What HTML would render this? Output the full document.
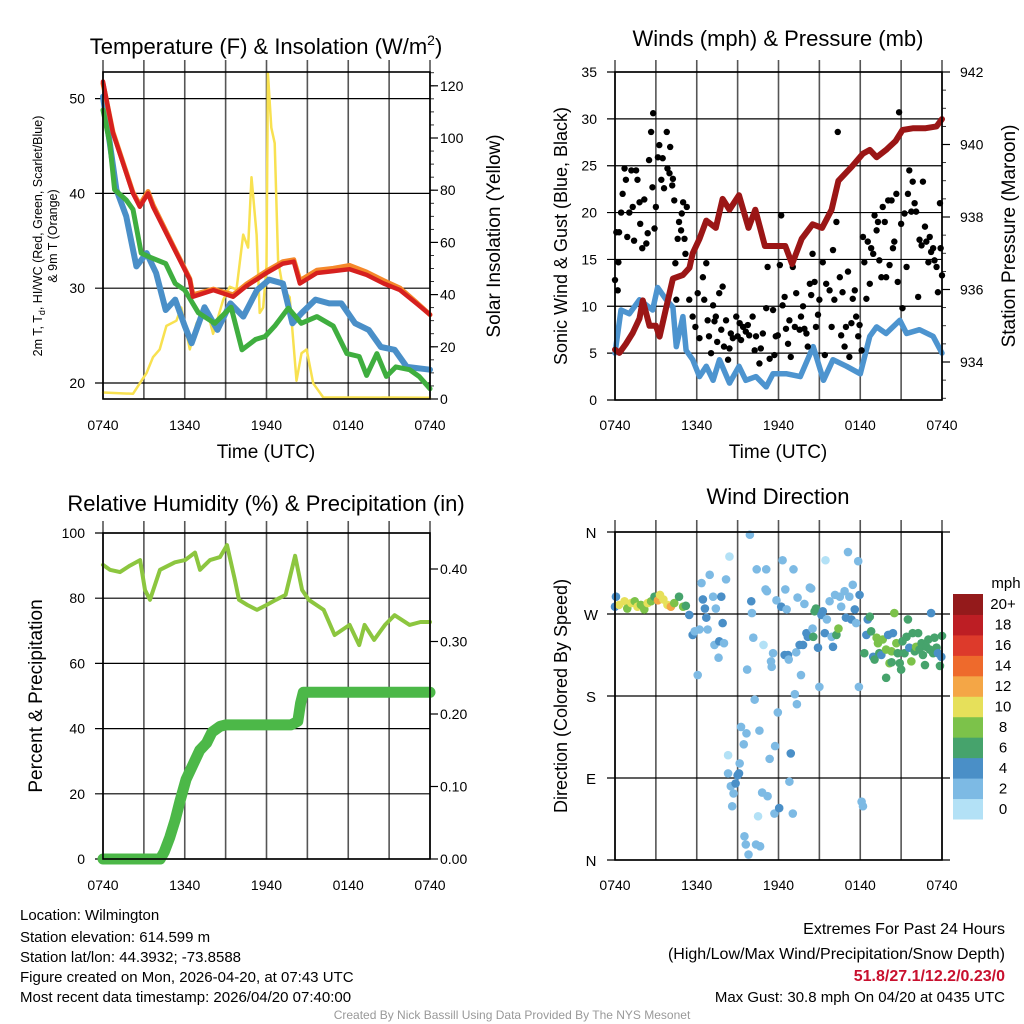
<!DOCTYPE html>
<html><head><meta charset="utf-8">
<style>
html,body{margin:0;padding:0;background:#fff;}
svg{display:block;font-family:"Liberation Sans",Arial,sans-serif;}
</style></head>
<body>
<svg id="chart" width="1024" height="1024" viewBox="0 0 1024 1024" xmlns="http://www.w3.org/2000/svg">
<rect width="1024" height="1024" fill="#fff"/>
<g id="g1"></g>
<g id="g2"></g>
<g id="g3"></g>
<g id="g4"></g>

<text x="266" y="54" font-size="22" text-anchor="middle">Temperature (F) &amp; Insolation (W/m<tspan dy="-9" font-size="14">2</tspan><tspan dy="9">)</tspan></text>
<text x="778" y="46" font-size="22" text-anchor="middle">Winds (mph) &amp; Pressure (mb)</text>
<text x="266" y="511" font-size="22" text-anchor="middle">Relative Humidity (%) &amp; Precipitation (in)</text>
<text x="778" y="504" font-size="22" text-anchor="middle">Wind Direction</text>

<text x="266" y="458" font-size="19" text-anchor="middle">Time (UTC)</text>
<text x="778" y="458" font-size="19" text-anchor="middle">Time (UTC)</text>

<text transform="translate(42,236) rotate(-90)" font-size="12.5" text-anchor="middle">2m T, T<tspan font-size="9" dy="3">d</tspan><tspan dy="-3">, HI/WC (Red, Green, Scarlet/Blue)</tspan></text>
<text transform="translate(57,236) rotate(-90)" font-size="12.5" text-anchor="middle">&amp; 9m T (Orange)</text>
<text transform="translate(500,236) rotate(-90)" font-size="19" text-anchor="middle">Solar Insolation (Yellow)</text>
<text transform="translate(567,236) rotate(-90)" font-size="18" text-anchor="middle">Sonic Wind &amp; Gust (Blue, Black)</text>
<text transform="translate(1015,236) rotate(-90)" font-size="19" text-anchor="middle">Station Pressure (Maroon)</text>
<text transform="translate(42,696) rotate(-90)" font-size="19" text-anchor="middle">Percent &amp; Precipitation</text>
<text transform="translate(567,696) rotate(-90)" font-size="18" text-anchor="middle">Direction (Colored By Speed)</text>

<g font-size="15">
<text x="20" y="920">Location: Wilmington</text>
<text x="20" y="942">Station elevation: 614.599 m</text>
<text x="20" y="962">Station lat/lon: 44.3932; -73.8588</text>
<text x="20" y="982">Figure created on Mon, 2026-04-20, at 07:43 UTC</text>
<text x="20" y="1002">Most recent data timestamp: 2026/04/20 07:40:00</text>
</g>
<g font-size="16" text-anchor="end">
<text x="1005" y="934">Extremes For Past 24 Hours</text>
<text x="1005" y="959">(High/Low/Max Wind/Precipitation/Snow Depth)</text>
<text x="1005" y="981" fill="#c8102e" font-weight="bold">51.8/27.1/12.2/0.23/0</text>
<text x="1005" y="1002" font-size="15">Max Gust: 30.8 mph On 04/20 at 0435 UTC</text>
</g>
<text x="512" y="1019" font-size="12" fill="#999" text-anchor="middle">Created By Nick Bassill Using Data Provided By The NYS Mesonet</text>
</svg>
<script>
// ---- Panel 1 data ----
const tempTime=[0,0.73,2.2,2.7,3.3,3.67,5.14,6.37,6.6,8.1,9.55,10.5,12,13.2,14,14.45,15.7,16.9,18.1,19.35,20.6,21.8,23,24];
const tempRed=[51.8,46.4,40,38.6,40,38.6,34.4,30.9,29.1,29.8,29.1,30.2,31.6,32.6,32.8,30.5,31.6,31.8,32,31.4,30.5,29.8,28.4,27.2];
const temp9m=[51.6,46.5,40.1,38.8,40.2,38.8,34.5,31,29.3,29.9,29.3,30.4,31.8,32.8,33,30.8,31.9,32.1,32.4,31.7,30.8,30,28.5,27.2];
const dewTime=[0,0.5,0.85,1.7,2.2,2.8,3.4,4.6,5.3,6.0,7.0,8.2,9.4,10.2,11.2,11.9,12.6,13.6,14.55,15.7,16.9,17.9,18.8,19.35,20.1,20.8,21.5,22.5,23.2,24];
const dewGreen=[48.8,45.3,40.4,39.3,38.3,33.7,33.3,32.6,30.5,29.8,27.4,26.3,28,23.5,24.6,24.9,26,27.9,26.3,27,26,23.1,22.8,20.8,23.1,20.7,21.7,21.4,20.7,19.4];
const wcTime=[0,0.5,0.98,1.7,2.45,3.2,3.9,4.6,5.3,6.0,6.5,7.45,8.4,9.35,10.3,11.3,12.2,13.2,13.9,14.6,15.6,16.6,17.5,18.5,19.5,20.4,21.4,22.3,24];
const wcBlue=[50.2,45.3,40.4,37.6,32.3,33.7,31.6,27.7,28.8,26,24.2,28,25.6,28.4,27,29.8,30.9,30.5,26.3,27.4,28.8,28.4,28.4,26.3,25.6,23.8,23.5,21.7,21.4];
const solarTime=[0,2.2,2.7,3.2,3.67,4.16,4.65,5.39,5.75,6.37,6.86,7.59,8.08,8.82,9.31,9.8,10.29,10.65,10.9,11.27,11.5,11.76,12.0,12.1,12.35,12.6,12.85,13.22,13.7,14.2,14.57,14.94,15.43,16.16,24];
const solarVal=[2.5,2,6,10,16,19,28,30,35,19,29,35,25,38,43,42,63,58,85,63,33,35,51,125,104,98,53,42,39,7,17.5,19,6,0.6,0.5];
// ---- Panel 2 data ----
const presTime=[0,0.32,0.8,1.3,1.8,2.04,2.53,3.0,3.27,3.76,4.25,4.98,5.47,5.7,6.2,6.7,7.4,7.9,8.4,9.1,9.8,10.3,11.0,11.5,12.5,13.0,13.7,14.5,15.2,15.9,16.4,17.4,18.2,18.7,19.2,19.9,20.6,21.1,21.9,22.8,23.6,24];
const presVal=[934.34,934.25,934.5,934.8,935.2,935.7,935,935,934.7,935.5,936.3,936.4,936.6,937,937.4,937.9,937.7,938.5,938.2,938.6,937.7,938.2,937.2,937.2,937.2,936.7,937.4,937.8,937.7,938.2,939,939.4,939.75,939.85,939.65,939.85,940.1,940.4,940.45,940.45,940.5,940.7];
const windTime=[0,0.44,1.05,1.8,2.76,3.13,3.76,4.25,4.5,4.98,5.22,5.7,6.2,6.7,7.2,7.67,8.4,9.1,9.6,10.35,11.1,11.6,12.6,13.6,14.55,15.3,16.0,17.0,18.0,18.7,19.2,19.9,20.9,21.4,22.35,23.35,24];
const windVal=[5,9.6,9.2,10.7,9.6,12,10.7,9.9,5.7,8.9,5.3,4.3,2.5,3.6,2.1,4.3,1.8,3.6,2.1,2.5,1.4,2.8,2.8,2.5,5.7,2.1,4.3,3.6,2.8,6.8,7.8,7.1,8.5,7.1,7.5,6.8,5];
const gustTime=[0,0.2,0.1,0.3,0.25,0.45,0.56,0.7,0.8,0.9,1.05,1.2,1.3,1.4,1.55,1.65,1.8,1.85,2.0,2.15,2.3,2.4,2.5,2.65,2.75,2.8,2.9,3.0,3.15,3.25,3.4,3.5,3.6,3.8,3.85,4.0,4.05,4.2,4.25,4.35,4.43,4.5,4.6,4.7,4.85,4.9,5.0,5.1,5.17,5.27,5.45,5.7,5.9,6.07,6.2,6.45,6.55,6.7,6.8,6.9,7.05,7.2,7.3,7.4,7.5,7.65,7.8,7.9,8.0,8.15,8.3,8.4,8.5,8.65,8.9,9.0,9.15,9.25,9.4,9.6,9.75,9.85,10.1,10.25,10.35,10.6,10.7,10.85,11.1,11.2,11.35,11.6,11.7,11.8,11.95,12.1,12.2,12.3,12.45,12.55,12.7,12.8,12.9,13.05,13.2,13.3,13.55,13.65,13.8,13.9,14.05,14.15,14.3,14.4,14.5,14.65,14.75,14.9,15.0,15.25,15.4,15.5,15.75,15.9,16.0,16.1,16.25,16.35,16.5,16.6,16.7,16.85,16.95,17.1,17.2,17.35,17.45,17.6,17.7,17.85,17.95,18.1,18.2,18.3,18.45,18.55,18.7,18.8,18.95,19.05,19.2,19.3,19.4,19.55,19.65,19.8,19.9,20.05,20.15,20.3,20.4,20.5,20.65,20.75,20.85,21.0,21.1,21.25,21.4,21.5,21.6,21.75,21.85,21.99,22.1,22.25,22.35,22.5,22.6,22.75,22.85,23.0,23.1,23.2,23.35,23.45,23.6,23.7,23.85,23.9,24];
const gustVal=[12.8,11.7,17.9,17.9,14.7,20,22,24.7,23.5,17.4,20,24.5,20.6,17,24.5,23.5,21.1,18.8,16.2,21.4,16.7,17.8,25.6,28.6,22.7,30.6,18.3,20.6,25.9,27.2,23.5,25.8,22.6,28.6,24.7,24.2,27,22.9,23.6,21.3,14.6,10.7,17.2,19,18.1,19.9,21.1,17.2,15.6,20.6,10.7,8.9,7.8,11.4,6.6,13.1,10.7,14.6,8.5,6.8,5,10.1,8.4,8.9,6.2,11.4,7.5,12.1,5.7,8.5,4.3,5.5,7.1,6.6,8.9,6.8,8.2,6.4,7.8,7.3,8,6.9,8.9,5.3,6.8,3.9,5.5,7.1,9.8,14.2,4.4,9.6,4.8,6.8,6.9,14.4,19.7,10.1,11,7.6,6,8.5,4.6,14.2,7.8,11.4,7.5,8.9,10,7.6,7.1,5.7,12.4,11.2,15.6,12.6,7.8,9.1,10.7,14.7,4.8,12.4,11.7,7.8,16,10.7,19,28.6,13.1,6.9,11.5,5.7,7.8,13.7,4.6,8.2,10.8,11.7,8.9,6.8,8,5.3,17.4,14.7,10.8,16.9,12.4,16.2,15.6,19.7,18.1,19,14.9,13.1,20.6,19,13.1,21.3,14.4,21.3,16.2,16.9,22,12.6,30.7,18.8,9.8,19.9,14.2,22,24.5,20.1,23.3,21,20.1,11,17.1,16.5,23.3,18.5,16.9,14.7,17.4,15.8,16.2,14.9,14.2,11.5,21,16.2,13.3];
// ---- Panel 3 data ----
const rhTime=[0,0.51,1.25,1.98,2.72,3.08,3.45,4.18,5.28,6.02,6.75,7.12,7.85,8.59,9.1,9.68,9.98,10.6,11.3,12.0,12.7,13.4,14.1,14.61,15.1,16.2,17.0,18.1,18.8,19.2,19.9,20.7,21.4,22.5,23.3,24];
const rhVal=[90.2,88.7,88,90,91.7,82.5,79.5,88.7,91,91.7,94,88.7,91.7,92.6,96.3,85.6,79.5,77.9,76.4,77.9,79.5,81,93,82.5,79.5,76.4,68.7,71.8,65.6,71.8,67.2,71.8,74.8,71.8,72.7,72.7];
const prTime=[0,4.2,4.5,4.9,5.3,5.65,6.1,6.6,7.1,7.6,8.0,8.6,9.0,13.8,14.3,14.5,14.7,24];
const prVal=[0,0,0.01,0.03,0.054,0.08,0.11,0.13,0.15,0.16,0.175,0.183,0.185,0.185,0.19,0.215,0.23,0.23];
// ---- Panel 4 data ----
const dirTime=[0,0.07,0.3,0.7,0.9,1.2,1.45,1.65,1.9,2.15,2.4,2.65,2.9,3.15,3.3,3.55,3.85,4.1,4.35,4.7,5.0,5.2,5.45,5.7,5.85,6.07,6.2,6.35,6.45,6.6,6.7,6.8,6.95,7.2,7.3,7.4,7.6,7.65,7.8,7.9,8.0,8.15,8.4,8.3,8.3,8.5,8.6,8.7,8.85,9.0,9.1,9.15,9.25,9.45,9.5,9.6,9.65,9.7,9.8,9.9,10.0,10.05,10.15,10.25,10.35,10.4,10.5,10.6,10.65,10.8,10.9,11.05,11.1,11.15,11.2,11.35,11.45,11.5,11.6,11.7,11.75,11.85,11.95,12.05,12.2,12.3,12.45,12.5,12.6,12.7,12.75,12.8,12.9,13.05,13.1,13.2,13.3,13.35,13.4,13.55,13.65,13.8,13.9,14.05,14.15,14.3,14.4,14.5,14.55,14.65,14.75,14.9,15.0,15.15,15.25,15.4,15.45,15.55,15.75,15.9,16.0,16.15,16.25,16.4,16.5,16.6,16.85,16.95,17.1,17.2,17.35,17.45,17.6,17.7,17.85,17.95,17.9,18.1,18.2,18.3,18.45,18.55,18.7,18.8,18.95,19.05,19.2,19.3,19.4,19.55,19.65,19.9,20.05,20.15,20.3,20.4,20.5,20.65,20.75,20.9,21.0,21.1,21.25,21.4,21.5,21.6,21.75,21.85,22.0,22.1,22.25,22.35,22.5,22.6,22.75,22.85,23.0,23.1,23.2,23.35,23.45,23.6,23.7,23.85,24,23.95,19.9,20.3];
const dirDeg=[278,289,280,284,276,282,284,278,280,275,282,284,289,285,291,286,280,278,282,289,278,279,269,247,251,203,253,304,286,276,266,253,313,289,236,276,222,240,289,260,238,308,333,115,95,81,59,73,84,93,95,106,146,127,26,17,139,209,6,357,284,271,244,176,17,319,48,142,15,74,236,297,319,295,70,111,218,212,227,51,125,285,162,57,278,329,225,297,275,225,220,86,117,51,319,182,228,171,288,236,203,236,281,249,245,299,298,254,245,273,276,233,190,269,273,249,329,264,284,245,234,291,247,254,289,278,295,266,338,289,264,302,275,260,328,291,190,64,59,227,247,264,267,251,223,220,244,238,227,225,242,231,247,216,229,249,271,238,227,216,209,240,227,245,264,233,218,249,229,234,249,231,238,225,214,234,242,231,271,227,244,233,227,213,246,223,200,217];
const dirSpeed=[5,5,10,10,8,10,9,10,8,8,10,9,7,12,11,11,11,12,9,7,8,7,5,5,3,3,3,3,5,5,5,3,3,3,3,3,3,5,5,5,3,3,1,1,3,3,3,3,5,5,5,3,3,3,3,3,3,3,3,3,5,3,3,3,3,3,1,3,3,3,1,3,3,3,3,3,3,3,3,3,3,3,3,5,5,3,5,3,3,5,3,3,5,3,3,3,3,3,3,5,3,5,3,5,5,3,3,3,7,7,7,5,3,5,5,5,1,3,3,3,5,3,7,8,3,3,3,5,3,3,5,3,5,3,3,5,3,3,3,7,5,5,7,7,5,7,8,8,7,5,8,8,5,8,8,5,8,8,7,7,7,7,7,7,7,5,8,7,7,8,7,7,7,7,7,7,7,7,5,7,7,7,5,7,7,5,7,7,5,7,7];
const speedColors=['#b3e1f6','#7dbae4','#4a8fc7','#46a36c','#7cc24a','#e6e05a','#f4a646','#ee6a2c','#dd3a2b','#bd1e24','#941a1b'];
const speedLabels=['0','2','4','6','8','10','12','14','16','18','20+'];
const hourTicks=['0740','1340','1940','0140','0740'];

const NS='http://www.w3.org/2000/svg';
function mk(parent,tag,attrs){const e=document.createElementNS(NS,tag);for(const k in attrs)e.setAttribute(k,attrs[k]);parent.appendChild(e);return e;}
function txt(parent,x,y,s,anchor,size){const t=mk(parent,'text',{x:x,y:y,'font-size':size||14,'text-anchor':anchor||'middle'});t.textContent=s;return t;}

function panelFrame(g,x0,x1,y0,y1,tickY){
  for(let i=0;i<=8;i++){const x=x0+(x1-x0)*i/8;
    const l=mk(g,'line',{x1:x,x2:x,y1:y0-12,y2:y1,stroke:'#555','stroke-width':1.6});
    
    }
  hourTicks.forEach((s,i)=>{const t=txt(g,x0+(x1-x0)*i/4,tickY,s,'middle',14);
    
    });
}
function hgrid(g,x0,x1,y){const l=mk(g,'line',{x1:x0-8,x2:x1,y1:y,y2:y,stroke:'#000','stroke-width':1.2});
  
  }
function rtick(g,x1,y){mk(g,'line',{x1:x1,x2:x1+8,y1:y,y2:y,stroke:'#000','stroke-width':1.2});}
function poly(g,xs,ys,color,w,name){const p=mk(g,'polyline',{points:xs.map((x,i)=>x.toFixed(1)+','+ys[i].toFixed(1)).join(' '),fill:'none',stroke:color,'stroke-width':w,'stroke-linejoin':'round','stroke-linecap':'round'});
  
  return p;}

// ---------- Panel 1 ----------
(function(){
const g=document.getElementById('g1');
const X=t=>103+t*327/24, Y=v=>383-(v-20)*9.48, YS=v=>399-v*2.61;
panelFrame(g,103,430,72,399,430);
[20,30,40,50].forEach(v=>{hgrid(g,103,430,Y(v));const t=txt(g,85,Y(v)+5,String(v),'end',14);
  
  });
for(let v=0;v<=120;v+=20){rtick(g,430,YS(v));const t=txt(g,440,YS(v)+5,String(v),'start',14);
  
  }
for(let v=0;v<=125;v+=5){mk(g,'line',{x1:430,x2:434,y1:YS(v),y2:YS(v),stroke:'#000','stroke-width':0.8});}
poly(g,solarTime.map(X),solarVal.map(YS),'#f8e150',2.5,'solar-line');
poly(g,wcTime.map(X),wcBlue.map(Y),'#4a8fc8',6,'windchill-line');
poly(g,dewTime.map(X),dewGreen.map(Y),'#3fae3f',5,'dewpoint-line');
poly(g,tempTime.map(X),temp9m.map(Y),'#f5882a',5,'temp-9m-line');
poly(g,tempTime.map(X),tempRed.map(Y),'#d6201f',4.5,'temp-2m-line');
mk(g,'rect',{x:103,y:72,width:327,height:327,fill:'none',stroke:'#000','stroke-width':1.6});
})();

// ---------- Panel 2 ----------
(function(){
const g=document.getElementById('g2');
const X=t=>615+t*327/24, Y=v=>400-v*328/35, YP=p=>362-(p-934)*36.25;
panelFrame(g,615,942,72,400,430);
for(let v=0;v<=35;v+=5){hgrid(g,615,942,Y(v));const t=txt(g,597,Y(v)+5,String(v),'end',14);
  
  }
for(let p=934;p<=942;p+=2){rtick(g,942,YP(p));const t=txt(g,960,YP(p)+5,String(p),'start',14);
  
  }
for(let p=933;p<=942;p+=0.5){mk(g,'line',{x1:942,x2:946,y1:YP(p),y2:YP(p),stroke:'#000','stroke-width':0.8});}
poly(g,windTime.map(X),windVal.map(Y),'#4d94cf',5.5,'sonic-wind-line');
gustTime.forEach((t,i)=>{const c=mk(g,'circle',{cx:X(t),cy:Y(gustVal[i]),r:3.2,fill:'#000'});
  
  });
poly(g,presTime.map(X),presVal.map(YP),'#9b1616',6,'pressure-line');
mk(g,'rect',{x:615,y:72,width:327,height:328,fill:'none',stroke:'#000','stroke-width':1.6});
})();

// ---------- Panel 3 ----------
(function(){
const g=document.getElementById('g3');
const X=t=>103+t*327/24, Y=v=>859-v*3.26, YP=v=>859-v*725;
panelFrame(g,103,430,533,859,890);
for(let v=0;v<=100;v+=20){hgrid(g,103,430,Y(v));const t=txt(g,85,Y(v)+5,String(v),'end',14);
  
  }
[0,0.1,0.2,0.3,0.4].forEach(v=>{rtick(g,430,YP(v));const t=txt(g,440,YP(v)+5,v.toFixed(2),'start',14);
  
  });
poly(g,rhTime.map(X),rhVal.map(Y),'#8cc63f',4,'rh-line');
poly(g,prTime.map(X),prVal.map(YP),'#4cb848',11,'precip-line');
mk(g,'rect',{x:103,y:533,width:327,height:326,fill:'none',stroke:'#000','stroke-width':1.6});
})();

// ---------- Panel 4 ----------
(function(){
const g=document.getElementById('g4');
const X=t=>615+t*327/24, Y=d=>860-d*328/360;
panelFrame(g,615,942,532,860,890);
[['N',360],['W',270],['S',180],['E',90],['N',0]].forEach(a=>{hgrid(g,615,950,Y(a[1]));const t=txt(g,591,Y(a[1])+6,a[0],'middle',15);
  
  });
dirTime.forEach((t,i)=>{const sp=(dirSpeed[i]===undefined)?7:dirSpeed[i];
  const b=Math.min(10,Math.floor(sp/2));
  const c=mk(g,'circle',{cx:X(t),cy:Y(dirDeg[i]),r:4.3,fill:speedColors[b]});
  
  });
mk(g,'rect',{x:615,y:532,width:327,height:328,fill:'none',stroke:'#000','stroke-width':1.6});
// colorbar
const cb=mk(g,'g',{});


const h=225/11;
for(let i=0;i<11;i++){const y=594+(10-i)*h;
  mk(cb,'rect',{x:953,y:y,width:30,height:h+0.5,fill:speedColors[i]});
  const t=txt(cb,1003,y+h/2+5,speedLabels[i],'middle',15);
  
  }
txt(cb,1006,588,'mph','middle',15);
})();
</script>
</body></html>
